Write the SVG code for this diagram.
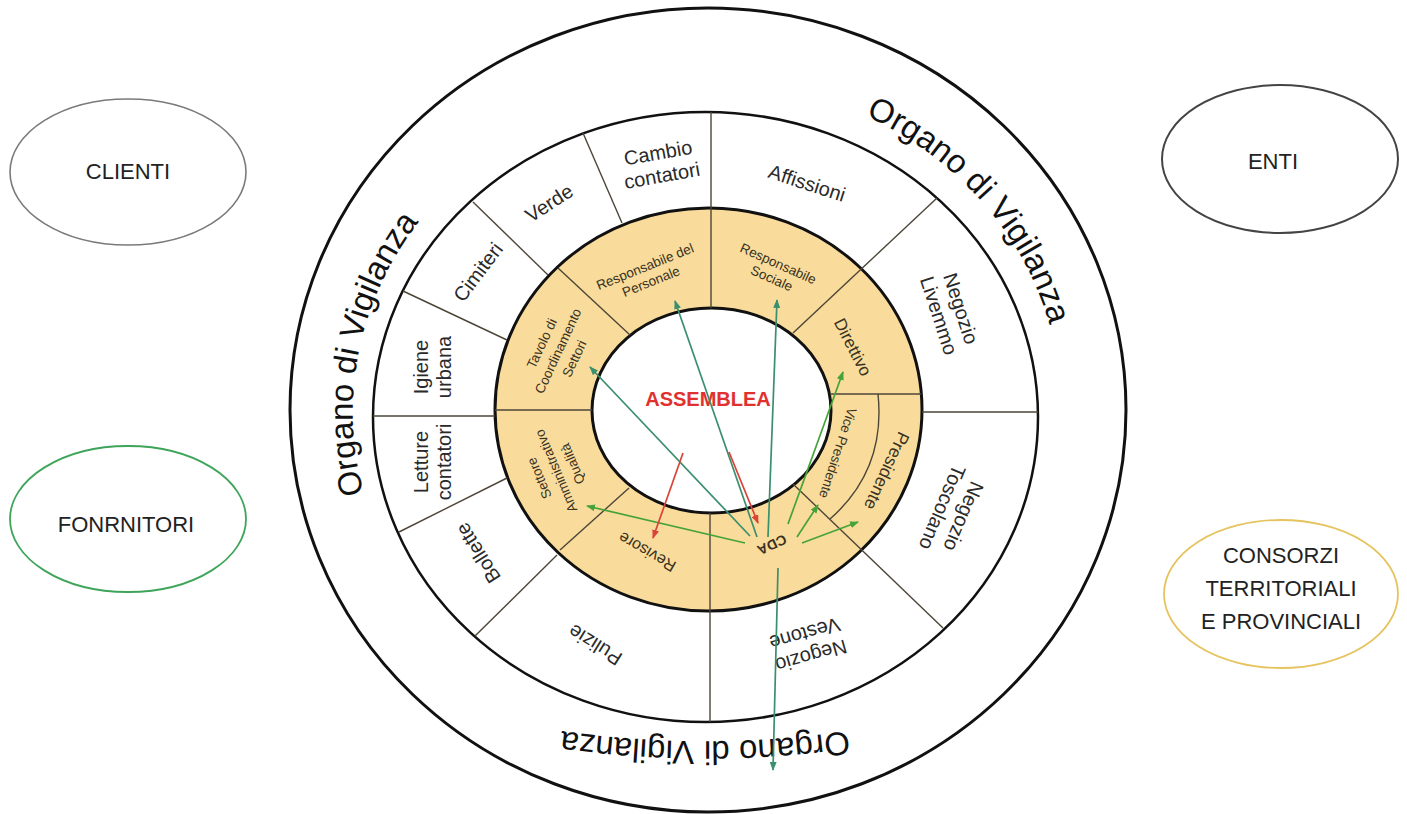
<svg xmlns="http://www.w3.org/2000/svg" width="1407" height="814" viewBox="0 0 1407 814">
<style>
text{font-family:"Liberation Sans",Arial,sans-serif;text-anchor:middle}
.side{font-size:22px;fill:#222}
.w{font-size:20px;fill:#2a2a2a}
.y{font-size:13.5px;fill:#3a3222}
.big{font-size:33px;fill:#111;text-anchor:middle}
.div{stroke:#4d4638;stroke-width:1.4;fill:none}
.ring{stroke:#111;fill:#fff}
.gt{stroke:#3b8f6e;stroke-width:1.7;fill:none;marker-end:url(#aT)}
.gg{stroke:#45a33a;stroke-width:1.7;fill:none;marker-end:url(#aG)}
.rd{stroke:#d9433a;stroke-width:1.7;fill:none;marker-end:url(#aR)}
</style>
<defs>
<marker id="aT" markerUnits="userSpaceOnUse" markerWidth="9" markerHeight="7" refX="8" refY="3.5" orient="auto"><path d="M0,0 L9,3.5 L0,7 z" fill="#3b8f6e"/></marker>
<marker id="aG" markerUnits="userSpaceOnUse" markerWidth="9" markerHeight="7" refX="8" refY="3.5" orient="auto"><path d="M0,0 L9,3.5 L0,7 z" fill="#45a33a"/></marker>
<marker id="aR" markerUnits="userSpaceOnUse" markerWidth="9" markerHeight="7" refX="8" refY="3.5" orient="auto"><path d="M0,0 L9,3.5 L0,7 z" fill="#d9433a"/></marker>
<path id="arcText" d="M 955.9 640.5 A 352 326 0 1 1 458.1 179.5 A 352 326 0 1 1 955.9 640.5"/>
<path id="arcBottom" d="M 905 721 A 1000 1000 0 0 1 505 721"/>
</defs>
<rect width="1407" height="814" fill="#fff"/>

<g id="clienti"><ellipse cx="128" cy="172" rx="118" ry="73" fill="#fff" stroke="#7a7a7a" stroke-width="1.6"/><text class="side" x="128" y="179">CLIENTI</text></g>
<g id="enti"><ellipse cx="1280" cy="159" rx="118" ry="74" fill="#fff" stroke="#444" stroke-width="2"/><text class="side" x="1273" y="169">ENTI</text></g>
<g id="fornitori"><ellipse cx="128" cy="519" rx="118" ry="73" fill="#fff" stroke="#3ea45a" stroke-width="1.8"/><text class="side" x="126" y="532">FONRNITORI</text></g>
<g id="consorzi"><ellipse cx="1281" cy="594" rx="117" ry="74" fill="#fff" stroke="#e6c35e" stroke-width="1.8"/><text class="side"><tspan x="1281" y="563">CONSORZI</tspan><tspan x="1281" y="596">TERRITORIALI</tspan><tspan x="1281" y="629">E PROVINCIALI</tspan></text></g>

<g id="organo">
<ellipse class="ring" cx="708" cy="410" rx="418" ry="402" stroke-width="3"/>
<text class="big"><textPath href="#arcBottom" startOffset="50%">Organo di Vigilanza</textPath></text>
<text class="big"><textPath href="#arcText" startOffset="40.6%">Organo di Vigilanza</textPath></text>
<text class="big"><textPath href="#arcText" startOffset="77.1%">Organo di Vigilanza</textPath></text>
</g>

<g id="rings">
<ellipse class="ring" cx="705.5" cy="417" rx="332.5" ry="305" stroke-width="2.5"/>
<ellipse cx="708.5" cy="409.5" rx="213.5" ry="201.5" fill="#f9dc9b" stroke="#111" stroke-width="3"/>
<ellipse cx="711.5" cy="410.5" rx="119.5" ry="102.5" fill="#fff" stroke="#111" stroke-width="3"/>
</g>

<g id="dividers">
<line class="div" x1="583" y1="133" x2="622" y2="223"/>
<line class="div" x1="711" y1="112" x2="711" y2="308"/>
<line class="div" x1="937" y1="198" x2="793" y2="333"/>
<line class="div" x1="922" y1="412" x2="1038" y2="412"/>
<line class="div" x1="793" y1="484" x2="943" y2="628"/>
<line class="div" x1="710" y1="513" x2="710" y2="722"/>
<line class="div" x1="475" y1="636" x2="557" y2="555"/>
<line class="div" x1="560" y1="550" x2="629" y2="488"/>
<line class="div" x1="399" y1="532" x2="507" y2="478"/>
<line class="div" x1="373" y1="416" x2="495" y2="416"/>
<line class="div" x1="495" y1="410" x2="592" y2="410"/>
<line class="div" x1="403" y1="291" x2="507" y2="340"/>
<line class="div" x1="473" y1="202" x2="548" y2="275"/>
<line class="div" x1="558" y1="268" x2="630" y2="335"/>
<line class="div" x1="830" y1="394" x2="921" y2="394"/>
<path class="div" d="M 878 394 Q 886 470 830 519"/>
</g>

<g id="assemblea"><text x="708" y="406" style="font-size:20px;font-weight:bold;fill:#e0312f">ASSEMBLEA</text></g>

<g id="cambio-contatori"><text class="w" transform="translate(660,164) rotate(-10)"><tspan x="0" y="-4.5">Cambio</tspan><tspan x="0" y="18.5">contatori</tspan></text></g>
<g id="affissioni"><text class="w" transform="translate(807,183) rotate(18)" dy="7">Affissioni</text></g>
<g id="verde"><text class="w" transform="translate(549,203) rotate(-33)" dy="7">Verde</text></g>
<g id="cimiteri"><text class="w" transform="translate(478,272) rotate(-53)" dy="7">Cimiteri</text></g>
<g id="igiene-urbana"><text class="w" transform="translate(432,367) rotate(-90)"><tspan x="0" y="-4.5">Igiene</tspan><tspan x="0" y="18.5">urbana</tspan></text></g>
<g id="letture-contatori"><text class="w" transform="translate(432,462) rotate(-90)"><tspan x="0" y="-4.5">Letture</tspan><tspan x="0" y="18.5">contatori</tspan></text></g>
<g id="bollette"><text class="w" transform="translate(478,553) rotate(-122)" dy="7">Bollette</text></g>
<g id="pulizie"><text class="w" transform="translate(595,645) rotate(-148)" dy="7">Pulizie</text></g>
<g id="negozio-vestone"><text class="w" transform="translate(808,645) rotate(164)"><tspan x="0" y="-4.5">Negozio</tspan><tspan x="0" y="18.5">Vestone</tspan></text></g>
<g id="negozio-toscolano"><text class="w" transform="translate(953,512) rotate(113)"><tspan x="0" y="-4.5">Negozio</tspan><tspan x="0" y="18.5">Toscolano</tspan></text></g>
<g id="negozio-livemmo"><text class="w" transform="translate(950,312) rotate(72)"><tspan x="0" y="-4.5">Negozio</tspan><tspan x="0" y="18.5">Livemmo</tspan></text></g>

<g id="resp-personale"><text class="y" transform="translate(648,274) rotate(-22)"><tspan x="0" y="-3.3">Responsabile del</tspan><tspan x="0" y="12.7">Personale</tspan></text></g>
<g id="resp-sociale"><text class="y" transform="translate(775,271) rotate(24)"><tspan x="0" y="-3.3">Responsabile</tspan><tspan x="0" y="12.7">Sociale</tspan></text></g>
<g id="direttivo"><text class="y" style="font-size:17px" transform="translate(853,347) rotate(63)" dy="6">Direttivo</text></g>
<g id="vice-presidente"><text class="y" transform="translate(838,453) rotate(108)" dy="4.7">Vice Presidente</text></g>
<g id="presidente"><text class="y" style="font-size:17.5px" transform="translate(887,471) rotate(115)" dy="6.2">Presidente</text></g>
<g id="cda"><text class="y" style="font-size:14px;font-weight:bold" transform="translate(772,545) rotate(155)" dy="5">CDA</text></g>
<g id="revisore"><text class="y" style="font-size:16px" transform="translate(647,552) rotate(-150)" dy="5.6">Revisore</text></g>
<g id="settore-amministrativo"><text class="y" style="font-size:13.5px" transform="translate(556,471) rotate(-113)"><tspan x="0" y="-13.5">Settore</tspan><tspan x="0" y="4.7">Amministrativo</tspan><tspan x="0" y="22.7">Qualità</tspan></text></g>
<g id="tavolo"><text class="y" transform="translate(558,351) rotate(-65)"><tspan x="0" y="-13.3">Tavolo di</tspan><tspan x="0" y="4.7">Coordinamento</tspan><tspan x="0" y="22.7">Settori</tspan></text></g>

<g id="connectors">
<line class="gt" x1="750" y1="536" x2="590" y2="367"/>
<line class="gt" x1="757" y1="537" x2="675" y2="301"/>
<line class="gt" x1="768" y1="537" x2="777" y2="300"/>
<line class="gg" x1="788" y1="524" x2="843" y2="372"/>
<line class="gg" x1="797" y1="537" x2="818" y2="505"/>
<line class="gg" x1="802" y1="543" x2="858" y2="522"/>
<line class="gg" x1="745" y1="543" x2="587" y2="506"/>
<line class="gt" x1="778" y1="568" x2="773" y2="770"/>
<line class="rd" x1="729" y1="452" x2="758" y2="523"/>
<line class="rd" x1="683" y1="453" x2="653" y2="538"/>
</g>
</svg>
